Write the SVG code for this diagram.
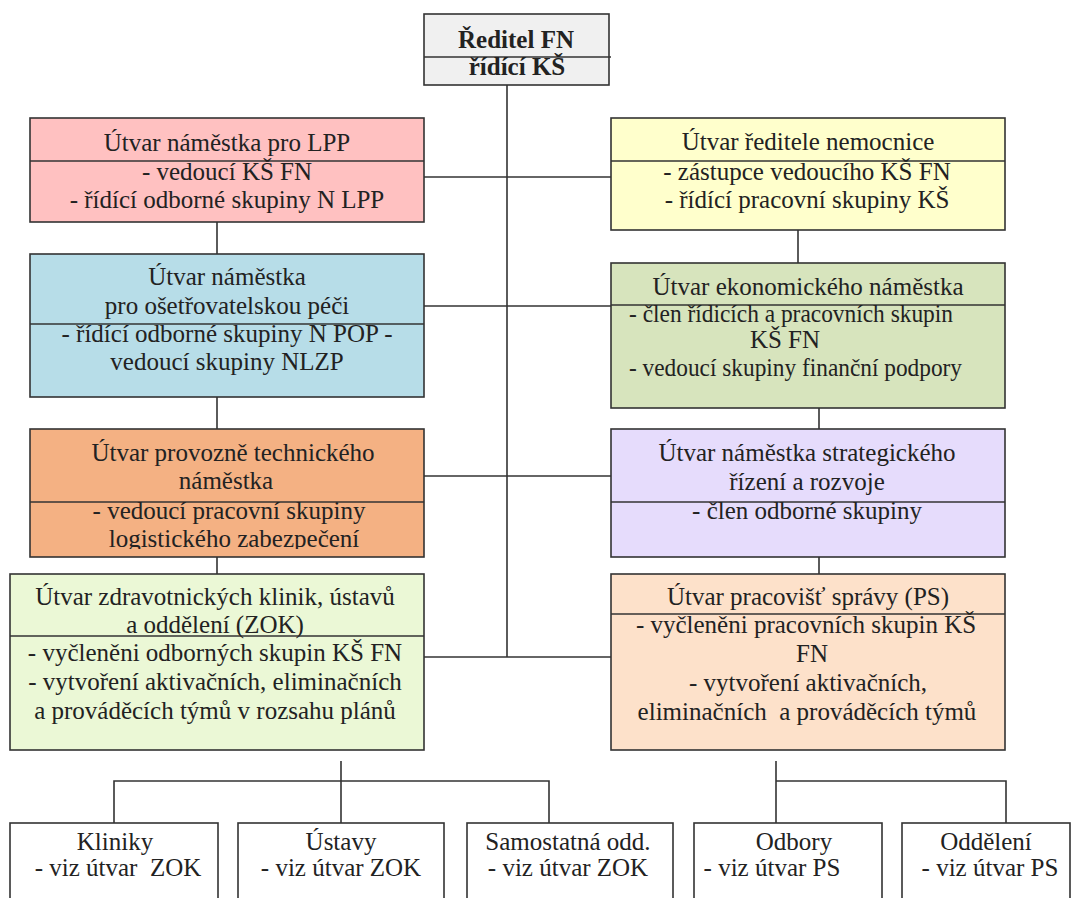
<svg xmlns="http://www.w3.org/2000/svg" width="1079" height="898" viewBox="0 0 1079 898">
<style>
  .box{stroke:#333;stroke-width:1.6}
  .div{stroke:#333;stroke-width:1.6;fill:none}
  .con{stroke:#333;stroke-width:1.6;fill:none}
  text{font-size:25px;fill:#222;text-anchor:middle}
  .b{font-weight:bold}
  .l{text-anchor:start}
</style>
<defs>
  <clipPath id="clipOrange"><rect x="30" y="429" width="394" height="120"/></clipPath>
</defs>
<rect width="1079" height="898" fill="#ffffff"/>

<g id="connectors">
  <line class="con" x1="507" y1="77" x2="507" y2="657"/>
  <line class="con" x1="424" y1="177" x2="611" y2="177"/>
  <line class="con" x1="424" y1="306" x2="611" y2="306"/>
  <line class="con" x1="424" y1="476" x2="611" y2="476"/>
  <line class="con" x1="424" y1="657" x2="611" y2="657"/>
  <line class="con" x1="217" y1="222" x2="217" y2="254"/>
  <line class="con" x1="217" y1="397" x2="217" y2="429"/>
  <line class="con" x1="217" y1="553" x2="217" y2="574"/>
  <line class="con" x1="798" y1="223" x2="798" y2="263"/>
  <line class="con" x1="819" y1="408" x2="819" y2="429"/>
  <line class="con" x1="819" y1="553" x2="819" y2="574"/>
  <line class="con" x1="341" y1="761" x2="341" y2="823"/>
  <polyline class="con" points="114,823 114,781 549,781 549,823"/>
  <line class="con" x1="776" y1="761" x2="776" y2="823"/>
  <polyline class="con" points="776,781 1006,781 1006,823"/>
</g>

<g font-family="'Liberation Serif', 'DejaVu Serif', 'Noto Serif', serif">
<g id="reditel">
  <rect class="box" x="424" y="14" width="185" height="71" fill="#f0f0f0"/>
  <line class="div" x1="424" y1="57" x2="611" y2="57"/>
  <text class="b" x="516" y="48">Ředitel FN</text>
  <text class="b" x="517" y="75">řídící KŠ</text>
</g>

<g id="lpp">
  <rect class="box" x="30" y="118" width="394" height="104" fill="#ffc1c1"/>
  <line class="div" x1="30" y1="161" x2="424" y2="161"/>
  <text x="227" y="150.5">Útvar náměstka pro LPP</text>
  <text x="227" y="179.5">- vedoucí KŠ FN</text>
  <text x="227" y="207.5">- řídící odborné skupiny N LPP</text>
</g>

<g id="reditel-nemocnice">
  <rect class="box" x="611" y="118" width="394" height="112" fill="#ffffcc"/>
  <line class="div" x1="611" y1="161" x2="1005" y2="161"/>
  <text x="808" y="150">Útvar ředitele nemocnice</text>
  <text x="807" y="180">- zástupce vedoucího KŠ FN</text>
  <text x="807" y="208">- řídící pracovní skupiny KŠ</text>
</g>

<g id="osetrovatelska">
  <rect class="box" x="30" y="254" width="394" height="143" fill="#b7dde8"/>
  <line class="div" x1="30" y1="324" x2="424" y2="324"/>
  <text x="227" y="285">Útvar náměstka</text>
  <text x="227" y="313.5">pro ošetřovatelskou péči</text>
  <text x="227" y="341.5">- řídící odborné skupiny N POP -</text>
  <text x="227" y="370">vedoucí skupiny NLZP</text>
</g>

<g id="ekonomicky">
  <rect class="box" x="611" y="263" width="394" height="145" fill="#d7e4bd"/>
  <line class="div" x1="611" y1="305" x2="1005" y2="305"/>
  <text x="808" y="295">Útvar ekonomického náměstka</text>
  <text class="l" x="629" y="322" textLength="324" lengthAdjust="spacingAndGlyphs">- člen řídicích a pracovních skupin</text>
  <text x="785" y="348">KŠ FN</text>
  <text class="l" x="629" y="376" textLength="333" lengthAdjust="spacingAndGlyphs">- vedoucí skupiny finanční podpory</text>
</g>

<g id="provozne-technicky">
  <rect class="box" x="30" y="429" width="394" height="128" fill="#f4b183"/>
  <line class="div" x1="30" y1="502" x2="424" y2="502"/>
  <text x="233" y="460.5">Útvar provozně technického</text>
  <text x="226" y="489">náměstka</text>
  <g clip-path="url(#clipOrange)">
    <text x="229" y="518.5">- vedoucí pracovní skupiny</text>
    <text x="234" y="546.5">logistického zabezpečení</text>
  </g>
</g>

<g id="strategicky">
  <rect class="box" x="611" y="429" width="394" height="128" fill="#e6dcfc"/>
  <line class="div" x1="611" y1="502" x2="1005" y2="502"/>
  <text x="807" y="460.5">Útvar náměstka strategického</text>
  <text x="807" y="489.5">řízení a rozvoje</text>
  <text x="807" y="519">- člen odborné skupiny</text>
</g>

<g id="zok">
  <rect class="box" x="10" y="574" width="414" height="176" fill="#ebf8d6"/>
  <line class="div" x1="10" y1="636" x2="424" y2="636"/>
  <text x="215" y="605">Útvar zdravotnických klinik, ústavů</text>
  <text x="215" y="633">a oddělení (ZOK)</text>
  <text x="215" y="661">- vyčleněni odborných skupin KŠ FN</text>
  <text x="215" y="690">- vytvoření aktivačních, eliminačních</text>
  <text x="215" y="719">a prováděcích týmů v rozsahu plánů</text>
</g>

<g id="ps">
  <rect class="box" x="611" y="574" width="394" height="176" fill="#fde1ca"/>
  <line class="div" x1="611" y1="614" x2="1005" y2="614"/>
  <text x="808" y="605">Útvar pracovišť správy (PS)</text>
  <text x="806" y="633">- vyčleněni pracovních skupin KŠ</text>
  <text x="812" y="661.5">FN</text>
  <text x="808" y="690.5">- vytvoření aktivačních,</text>
  <text x="807" y="719.5" style="white-space:pre">eliminačních  a prováděcích týmů</text>
</g>

<g id="kliniky">
  <rect class="box" x="10" y="823" width="208" height="90" fill="#ffffff"/>
  <text x="115" y="850">Kliniky</text>
  <text x="118" y="876" style="white-space:pre">- viz útvar  ZOK</text>
</g>

<g id="ustavy">
  <rect class="box" x="238" y="823" width="206" height="90" fill="#ffffff"/>
  <text x="341" y="850">Ústavy</text>
  <text x="341" y="876">- viz útvar ZOK</text>
</g>

<g id="samostatna">
  <rect class="box" x="467" y="823" width="206" height="90" fill="#ffffff"/>
  <text x="568" y="850">Samostatná odd.</text>
  <text x="568" y="876">- viz útvar ZOK</text>
</g>

<g id="odbory">
  <rect class="box" x="694" y="823" width="188" height="90" fill="#ffffff"/>
  <text x="794" y="850">Odbory</text>
  <text x="772" y="876">- viz útvar PS</text>
</g>

<g id="oddeleni">
  <rect class="box" x="902" y="823" width="168" height="90" fill="#ffffff"/>
  <text x="986" y="850">Oddělení</text>
  <text x="990" y="876">- viz útvar PS</text>
</g>
</g>
</svg>
